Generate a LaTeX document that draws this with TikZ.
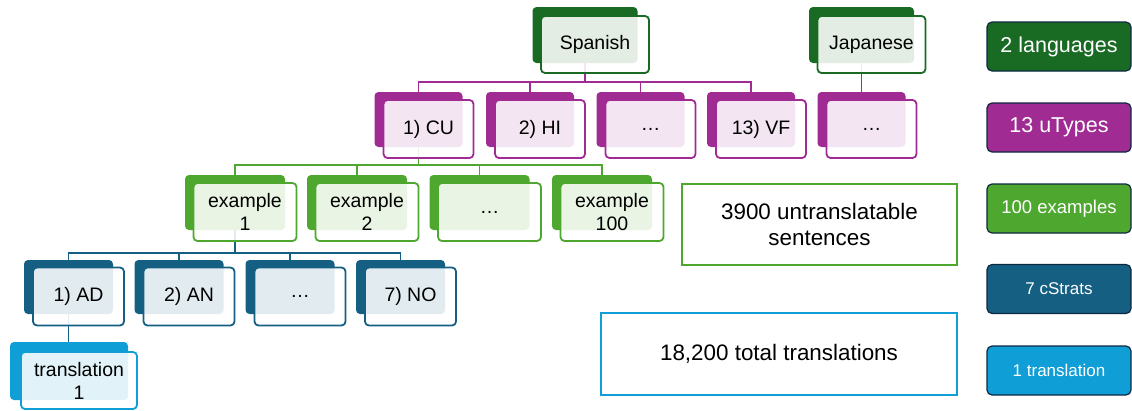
\documentclass[tikz,border=0pt]{standalone}
\usepackage{fontspec}
\setmainfont{Liberation Sans}
\usetikzlibrary{positioning,backgrounds}
\definecolor{cgreenD}{HTML}{196B24}
\definecolor{cpurp}{HTML}{A02B93}
\definecolor{cgreen}{HTML}{4EA72E}
\definecolor{cblueD}{HTML}{156082}
\definecolor{cblue}{HTML}{0F9ED5}
\definecolor{cnavy}{HTML}{0E2841}

\begin{document}
\begin{tikzpicture}[x=1pt,y=-1pt,font=\fontsize{19.5}{23}\selectfont,
        bk/.style={fill=#1,rounded corners=4pt,inner sep=0pt},
        fr/.style={draw=#1,line width=1.8pt,fill=white,fill opacity=0.88,text opacity=1,
                rounded corners=4pt,inner sep=0pt,align=center,xshift=10pt,yshift=-9.5pt},
        lnk/.style={draw=#1,line width=1.6pt},
        legend/.style={fill=#1,draw=cnavy,line width=1.2pt,rounded corners=5pt,
                minimum width=144,minimum height=49,text=white},
        info/.style={draw=#1,line width=1.8pt,align=center,font=\fontsize{22.4}{26}\selectfont}]
        \useasboundingbox (0,0) rectangle (1132,410);
        % languages
        \foreach \n/\x/\t in {sp/585/Spanish, jp/861.5/Japanese}{
                \node[bk=cgreenD,minimum width=105,minimum height=56] (\n0) at (\x,35) {};
                \node[fr=cgreenD,minimum width=108,minimum height=57] (\n) at (\x,35) {\t};
        }
        % uTypes
        \foreach \n/\x/\t in {cu/418.5/1) CU, hi/530/2) HI, dd/640.5/\ldots, vf/751/13) VF, jd/861.5/\ldots}{
                \node[bk=cpurp,minimum width=88,minimum height=55] (\n0) at (\x,119.5) {};
                \node[fr=cpurp,minimum width=90,minimum height=58] (\n) at (\x,119.5) {\t};
        }
        % examples
        \foreach \n/\x/\t in {ea/235/example\\1, eb/357/example\\2, ed/479.5/\ldots, ez/602/example\\100}{
                \node[bk=cgreen,minimum width=100,minimum height=55] (\n0) at (\x,202.5) {};
                \node[fr=cgreen,minimum width=103,minimum height=58] (\n) at (\x,202.5) {\t};
        }
        % cStrats
        \foreach \n/\x/\t in {ad/68.5/1) AD, an/179/2) AN, cd/290/\ldots, no/400.5/7) NO}{
                \node[bk=cblueD,minimum width=89,minimum height=54] (\n0) at (\x,287) {};
                \node[fr=cblueD,minimum width=91,minimum height=58] (\n) at (\x,287) {\t};
        }
        % translation
        \node[bk=cblue,minimum width=118,minimum height=58] (tr0) at (69,371) {};
        \node[fr=cblue,minimum width=116,minimum height=57] (tr) at (69,371) {translation\\1};

        % tree lines
        \begin{scope}[on background layer]
                \coordinate (spbar) at ([yshift=-19pt]sp0.south);
                \draw[lnk=cpurp] (sp0.south) -- (spbar);
                \foreach \c in {cu,hi,dd,vf} \draw[lnk=cpurp] (\c0.north) |- (spbar);
                \draw[lnk=cpurp] (jp0.south) -- (jd0.north);
                \coordinate (cubar) at ([yshift=-18pt]cu0.south);
                \draw[lnk=cgreen] (cu0.south) -- (cubar);
                \foreach \c in {ea,eb,ed,ez} \draw[lnk=cgreen] (\c0.north) |- (cubar);
                \coordinate (eabar) at ([yshift=-23pt]ea0.south);
                \draw[lnk=cblueD] (ea0.south) -- (eabar);
                \foreach \c in {ad,an,cd,no} \draw[lnk=cblueD] (\c0.north) |- (eabar);
                \draw[lnk=cblueD] (ad0.south) -- (ad0.south |- tr0.north);
        \end{scope}

        % totals
        \node[info=cgreen,minimum width=275,minimum height=81] (sent) at (819.5,224.5) {3900 untranslatable\\sentences};
        \node[info=cblue,minimum width=356,minimum height=82] (total) at (779,354) {18,200 total translations};

        % legend
        \node[legend=cgreenD,font=\fontsize{21.5}{24}\selectfont] (lg1) at (1059,46.5) {2 languages};
        \node[legend=cpurp,font=\fontsize{21.5}{24}\selectfont] (lg2) at (1059,127.5) {13 uTypes};
        \node[legend=cgreen,font=\fontsize{18.5}{21}\selectfont] (lg3) at (1059,208.5) {100 examples};
        \node[legend=cblueD,font=\fontsize{17}{20}\selectfont] (lg4) at (1059,289) {7 cStrats};
        \node[legend=cblue,font=\fontsize{17}{20}\selectfont] (lg5) at (1059,370.5) {1 translation};
\end{tikzpicture}
\end{document}
